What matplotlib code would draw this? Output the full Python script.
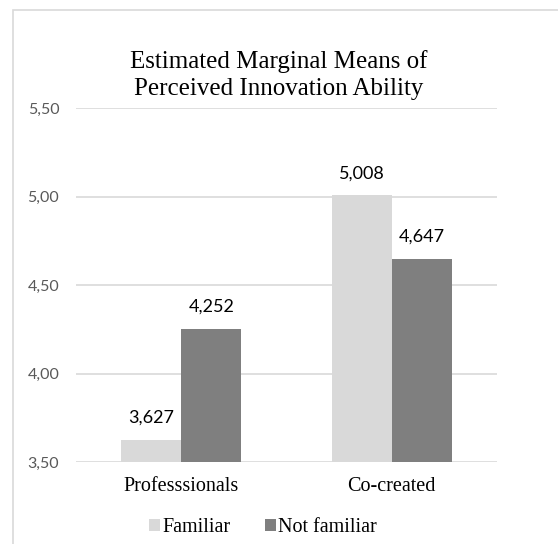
"""
Estimated marginal means bar chart (Excel style).
Run: python plot.py
"""

import matplotlib.pyplot as plt
from matplotlib.patches import Rectangle
import numpy as np

categories = ["Professsionals", "Co-created"]
series_names = ["Familiar", "Not familiar"]
familiar = [3.627, 5.008]
not_familiar = [4.252, 4.647]
y_ticks = [3.50, 4.00, 4.50, 5.00, 5.50]

COLORS = ["#D9D9D9", "#7F7F7F"]
SERIF = "Liberation Serif"
SANS = "Lato"


def fmt(v, nd):
    return f"{v:.{nd}f}".replace(".", ",")


def plot_chart() -> None:
    fig = plt.figure(figsize=(5.58, 5.44), dpi=100)
    W, H = 558, 544
    # chart border
    fig.patches.append(Rectangle((13 / W, -0.01), 1.0, 1 - 10 / H + 0.01,
                                 transform=fig.transFigure, fill=False,
                                 edgecolor="#D9D9D9", linewidth=1.2))
    ax = fig.add_axes([76 / W, 1 - 462 / H, 421 / W, (462 - 108) / H])

    x = np.arange(len(categories))
    w = 0.285
    bars1 = ax.bar(x - w / 2, familiar, w, color=COLORS[0], label=series_names[0])
    bars2 = ax.bar(x + w / 2, not_familiar, w, color=COLORS[1], label=series_names[1])

    ax.set_xlim(-0.5, 1.5)
    ax.set_ylim(3.5, 5.5)
    ax.set_yticks(y_ticks)
    ax.set_yticklabels([fmt(t, 2) for t in y_ticks], fontfamily=SANS,
                       fontsize=11.5, color="#595959")
    ax.tick_params(axis="y", length=0, pad=12)
    ax.set_xticks(x)
    ax.set_xticklabels(categories, fontfamily=SERIF, fontsize=14.5, color="black")
    ax.tick_params(axis="x", length=0, pad=11)
    ax.yaxis.grid(True, color="#D9D9D9", linewidth=1.2)
    ax.set_axisbelow(True)
    for s in ax.spines.values():
        s.set_visible(False)

    for bars, vals in ((bars1, familiar), (bars2, not_familiar)):
        for b, v in zip(bars, vals):
            ax.annotate(fmt(v, 3), (b.get_x() + b.get_width() / 2, v),
                        xytext=(0, 10), textcoords="offset points",
                        ha="center", va="bottom", fontfamily=SANS,
                        fontsize=13, color="black")

    fig.text(0.5, 1 - 75 / H, "Estimated Marginal Means of\nPerceived Innovation Ability",
             ha="center", va="center", fontfamily=SERIF, fontsize=18,
             linespacing=1.32)

    fig.legend(loc="center", bbox_to_anchor=(263 / W, 1 - 528 / H), ncol=2,
               frameon=False, prop={"family": SERIF, "size": 14.5},
               handlelength=0.55, handleheight=0.55, handletextpad=0.1,
               columnspacing=1.7)

    fig.savefig("out.png", dpi=100)
    plt.close(fig)


if __name__ == "__main__":
    plot_chart()
